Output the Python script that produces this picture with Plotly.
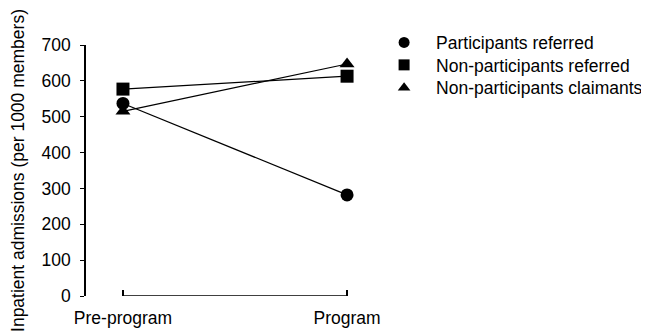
import plotly.graph_objects as go

periods = ["Pre-program", "Program"]
period_pos = [0, 1]
participants_referred = [537, 282]
nonparticipants_referred = [577, 613]
nonparticipants_claimants = [515, 647]
y_ticks = [0, 100, 200, 300, 400, 500, 600, 700]

FONT = "Liberation Sans, Arial, Helvetica, sans-serif"
FS = 17.5
# the page body adds an 8px margin, so the figure is drawn 8px smaller
W, H = 641, 325

fig = go.Figure()
series = [
    ("Participants referred", participants_referred, "circle", "legend", 0.949),
    ("Non-participants referred", nonparticipants_referred, "square", "legend2", 0.880),
    ("Non-participants claimants", nonparticipants_claimants, "triangle-up", "legend3", 0.810),
]
for name, vals, sym, _, _ in series:
    fig.add_trace(go.Scatter(
        x=period_pos, y=vals, name=name, mode="lines+markers",
        line=dict(color="black", width=1.2),
        marker=dict(symbol=sym, size=13, color="black"),
        cliponaxis=False, showlegend=False,
    ))
# legend entries (markers only, as in the reference)
legend_layouts = {}
for name, vals, sym, lg, ly in series:
    fig.add_trace(go.Scatter(
        x=[None], y=[None], name=name, mode="markers",
        marker=dict(symbol=sym, size=11, color="black"),
        showlegend=True, legend=lg,
    ))
    legend_layouts[lg] = dict(xref="container", yref="container", x=0.568, y=ly,
                              xanchor="left", yanchor="top", bgcolor="rgba(0,0,0,0)",
                              font=dict(size=FS), itemwidth=54)

# x axis baseline spanning the two categories with upturned end ticks
fig.add_shape(type="line", xref="x", yref="y", x0=period_pos[0], x1=period_pos[-1],
              y0=0, y1=0, line=dict(color="black", width=1.5))

fig.update_layout(
    width=W, height=H,
    margin=dict(l=78, r=269, t=37, b=37, autoexpand=False),
    paper_bgcolor="white", plot_bgcolor="white",
    font=dict(family=FONT, size=FS, color="black"),
    showlegend=True,
    xaxis=dict(
        range=[-0.165, 1.147], tickmode="array", tickvals=period_pos, ticktext=periods,
        showline=False, showgrid=False, zeroline=False, automargin=False,
        ticks="inside", ticklen=6, tickcolor="black", tickwidth=1.5,
        tickfont=dict(size=FS), ticklabelstandoff=9,
    ),
    yaxis=dict(
        range=[0, 700], tickvals=y_ticks, showline=True, linecolor="black", linewidth=1.5,
        showgrid=False, zeroline=False, ticks="outside", ticklen=4, tickcolor="black",
        tickfont=dict(size=FS), ticklabelstandoff=6, automargin=False,
        title=dict(text="Inpatient admissions (per 1000 members)", font=dict(size=17.5), standoff=19),
    ),
    **legend_layouts,
)

fig.write_html("out.html")
